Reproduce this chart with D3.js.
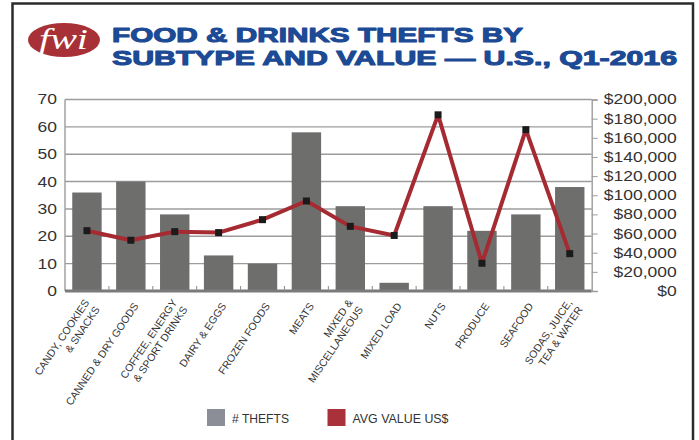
<!DOCTYPE html>
<html>
<head>
<meta charset="utf-8">
<script src="https://cdn.jsdelivr.net/npm/d3@7"></script>
<style>
  html, body { margin: 0; padding: 0; background: #fff; }
  svg { display: block; font-family: "Liberation Sans", Arial, Helvetica, sans-serif; }
</style>
</head>
<body>
<svg id="chart" width="699" height="440"></svg>
<script>
// ---- data ----
const categories = [
  "CANDY, COOKIES\n& SNACKS",
  "CANNED & DRY GOODS",
  "COFFEE, ENERGY\n& SPORT DRINKS",
  "DAIRY & EGGS",
  "FROZEN FOODS",
  "MEATS",
  "MIXED &\nMISCELLANEOUS",
  "MIXED LOAD",
  "NUTS",
  "PRODUCE",
  "SEAFOOD",
  "SODAS, JUICE,\nTEA & WATER"
];
const thefts = [36, 40, 28, 13, 10, 58, 31, 3, 31, 22, 28, 38];
const avgValue = [63000, 53000, 62000, 61000, 74500, 94000, 67500, 58000, 184000, 29000, 168500, 39000];
const leftTicks = [0, 10, 20, 30, 40, 50, 60, 70];
const rightTicks = [0, 20000, 40000, 60000, 80000, 100000, 120000, 140000, 160000, 180000, 200000];
const titleLines = ["FOOD & DRINKS THEFTS BY", "SUBTYPE AND VALUE \u2014 U.S., Q1-2016"];
const legendItems = ["# THEFTS", "AVG VALUE US$"];

// ---- layout ----
const svg = d3.select("#chart");
const plotL = 65, plotR = 591.7, plotT = 99.5, plotB = 291;
const SX = 1.25; // horizontal stretch of tick labels

// frame
svg.append("rect").attr("x", 12.5).attr("y", 3.5).attr("width", 680.5).attr("height", 450)
  .attr("fill", "none").attr("stroke", "#2b2b2b").attr("stroke-width", 2.5);

// logo
svg.append("ellipse").attr("cx", 64).attr("cy", 40).attr("rx", 36).attr("ry", 17)
  .attr("fill", "#a83137");
svg.append("text").attr("x", 39).attr("y", 49)
  .attr("font-family", "'Liberation Serif', 'DejaVu Serif', serif")
  .attr("font-style", "italic").attr("font-size", 30).attr("fill", "#fff")
  .attr("textLength", 49).attr("lengthAdjust", "spacingAndGlyphs")
  .text("fwi");

// title (one text element, two lines)
const titleW = [411, 565];
const titleY = [41.5, 65];
const title = svg.append("text")
  .attr("font-size", 21).attr("font-weight", "bold").attr("fill", "#1c4a94")
  .attr("stroke", "#1c4a94").attr("stroke-width", 1.1).attr("stroke-linejoin", "round");
titleLines.forEach((t, i) => {
  title.append("tspan").attr("x", 112).attr("y", titleY[i])
    .attr("textLength", titleW[i]).attr("lengthAdjust", "spacingAndGlyphs")
    .text(t);
});

// scales
const x = d3.scaleBand().domain(d3.range(categories.length))
  .range([plotL, plotR]).paddingInner(0.33).paddingOuter(0.165);
const yL = d3.scaleLinear().domain([0, 70]).range([plotB, plotT]);
const yR = d3.scaleLinear().domain([0, 200000]).range([plotB, plotT]);

// gridlines
svg.append("g").selectAll("line").data(leftTicks.filter(d => d > 0)).join("line")
  .attr("x1", plotL).attr("x2", plotR)
  .attr("y1", d => yL(d)).attr("y2", d => yL(d))
  .attr("stroke", "#9c9c9c").attr("stroke-width", 1.4);

// left axis line
svg.append("line").attr("x1", plotL).attr("x2", plotL).attr("y1", plotT).attr("y2", plotB)
  .attr("stroke", "#9c9c9c").attr("stroke-width", 1.4);

// bars
svg.append("g").selectAll("rect").data(thefts).join("rect")
  .attr("x", (d, i) => x(i)).attr("width", x.bandwidth())
  .attr("y", d => yL(d)).attr("height", d => yL(0) - yL(d))
  .attr("fill", "#6e6f6d");

// bottom axis
svg.append("line").attr("x1", plotL).attr("x2", plotR).attr("y1", plotB).attr("y2", plotB)
  .attr("stroke", "#7a7a7a").attr("stroke-width", 3);
const bounds = d3.range(1, categories.length).map(k => x.range()[0] + k * x.step());
svg.append("g").selectAll("line").data(bounds).join("line")
  .attr("x1", d => d).attr("x2", d => d).attr("y1", plotB).attr("y2", plotB - 5)
  .attr("stroke", "#8a8a8a").attr("stroke-width", 1);

// left tick labels
const leftAxis = svg.append("g").attr("transform", `translate(${plotL},0)`)
  .call(d3.axisLeft(yL).tickValues(leftTicks).tickSize(0).tickPadding(0));
leftAxis.select(".domain").remove();
leftAxis.selectAll("text")
  .attr("x", -8 / SX).attr("transform", `scale(${SX},1)`)
  .attr("font-size", 14).attr("fill", "#333").attr("font-family", "'Liberation Sans', Arial, sans-serif");

// right axis
const rightAxis = svg.append("g").attr("transform", `translate(${plotR},0)`)
  .call(d3.axisRight(yR).tickValues(rightTicks).tickSize(6)
    .tickFormat(d => "$" + d3.format(",")(d)));
rightAxis.select(".domain").attr("stroke", "#9c9c9c").attr("stroke-width", 1.4);
rightAxis.selectAll(".tick line").attr("stroke", "#9c9c9c").attr("stroke-width", 1);
rightAxis.selectAll("text")
  .attr("text-anchor", "end")
  .attr("x", 85 / SX).attr("transform", `scale(${SX},1)`)
  .attr("font-size", 14).attr("fill", "#333").attr("font-family", "'Liberation Sans', Arial, sans-serif");

// line series
const line = d3.line().x((d, i) => x(i) + x.bandwidth() / 2).y(d => yR(d));
svg.append("path").datum(avgValue).attr("d", line)
  .attr("fill", "none").attr("stroke", "#a52a32").attr("stroke-width", 4)
  .attr("stroke-linejoin", "round");
svg.append("g").selectAll("rect").data(avgValue).join("rect")
  .attr("x", (d, i) => x(i) + x.bandwidth() / 2 - 3.5)
  .attr("y", d => yR(d) - 3.5)
  .attr("width", 7).attr("height", 7).attr("fill", "#1b1b1b");

// category labels
const lh = 12.5;
const catG = svg.append("g").selectAll("g").data(categories).join("g")
  .attr("transform", (d, i) => `translate(${x(i) + x.bandwidth() / 2 + 8},306) rotate(-56)`);
catG.append("text").attr("text-anchor", "end").attr("font-size", 10.5).attr("fill", "#333")
  .each(function (d) {
    const lines = d.split("\n");
    const t = d3.select(this);
    lines.forEach((s, j) => {
      t.append("tspan").attr("x", 0).attr("y", (j - (lines.length - 1) / 2) * lh).text(s);
    });
  });

// legend
const legColors = ["#8b8d97", "#a8313a"];
const legX = [207, 327.5];
const legW = [57, 96];
legendItems.forEach((t, i) => {
  svg.append("rect").attr("x", legX[i]).attr("y", 409).attr("width", 18).attr("height", 17)
    .attr("fill", legColors[i]);
  svg.append("text").attr("x", legX[i] + 25).attr("y", 422.5)
    .attr("font-size", 13.5).attr("fill", "#333")
    .attr("textLength", legW[i]).attr("lengthAdjust", "spacingAndGlyphs")
    .text(t);
});
</script>
</body>
</html>
